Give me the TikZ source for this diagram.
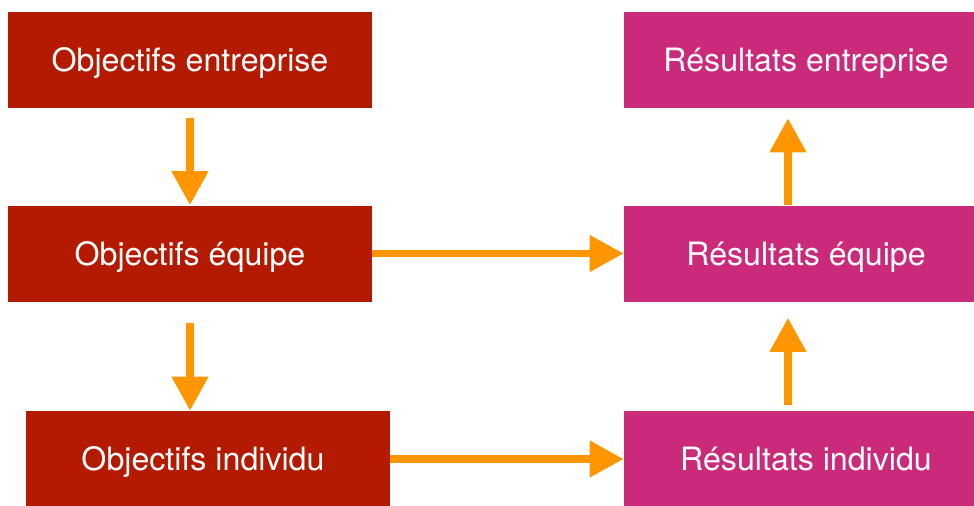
\documentclass[tikz,border=0pt]{standalone}
\usepackage{fontspec}
\setmainfont{TeX Gyre Heros}
\usetikzlibrary{arrows.meta}

\definecolor{objred}{RGB}{180,26,0}
\definecolor{resmag}{RGB}{203,42,123}
\definecolor{arroworange}{RGB}{255,150,0}

\begin{document}
\begin{tikzpicture}[x=0.02cm,y=-0.02cm,
  box/.style={minimum width=7.28cm,minimum height=1.92cm,inner sep=0pt,
    text height=13.2pt,text depth=0pt,
    text=white,font=\fontsize{18.3}{22}\selectfont},
  objbox/.style={box,fill=objred},
  resbox/.style={box,fill=resmag},
  arr/.style={arroworange,line width=1.5mm,-{Triangle[length=6.8mm,width=7mm]}}]
\path[use as bounding box,clip] (0,0) rectangle (974,505);

% objectifs
\node[objbox] (oe) at (190,60) {Objectifs entreprise};
\node[objbox] (oq) at (190,253.5) {Objectifs équipe};
\node[objbox] (oi) at (208,459) {\hspace*{-5.7pt}Objectifs individu};

% resultats
\node[resbox] (re) at (806,60) {Résultats entreprise};
\node[resbox] (rq) at (806,253.5) {Résultats équipe};
\node[resbox] (ri) at (806,459) {Résultats individu};

\draw[arr,shorten <=2mm] (oe.south) -- (oq.north);
\draw[arr,shorten <=4.2mm] (oq.south) -- (oq.south |- oi.north);

\draw[arr] (oq.east) -- (rq.west);
\draw[arr] (oi.east) -- (ri.west);

\draw[arr,shorten >=2mm] (rq.north -| 788,0) -- (re.south -| 788,0);
\draw[arr,shorten <=1.2mm,shorten >=3.2mm] (ri.north -| 788,0) -- (rq.south -| 788,0);
\end{tikzpicture}
\end{document}
